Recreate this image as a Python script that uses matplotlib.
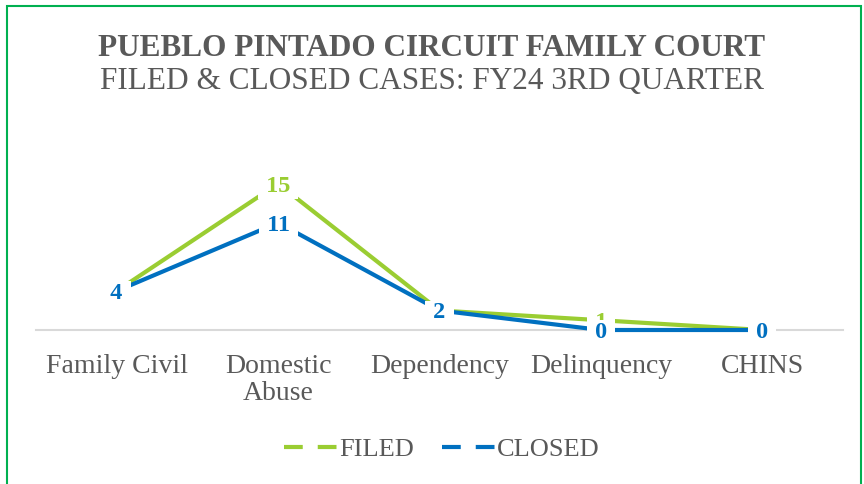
import matplotlib
matplotlib.use("Agg")
from matplotlib import pyplot as plt
from matplotlib.patches import Rectangle

categories = ["Family Civil", "Domestic\nAbuse", "Dependency", "Delinquency", "CHINS"]
filed = [4, 15, 2, 1, 0]
closed = [4, 11, 2, 0, 0]

title_1 = "PUEBLO PINTADO CIRCUIT FAMILY COURT"
title_2 = "FILED & CLOSED CASES: FY24 3RD QUARTER"

GREEN = "#9ACD32"
BLUE = "#0070C0"
GRAY = "#595959"

plt.rcParams['font.family'] = ['Liberation Serif', 'DejaVu Serif']

fig = plt.figure(figsize=(8.64, 4.84), dpi=100)
W, H = 864, 484

# plot area: x from 36 to 843 px, y=0 at 330 px, y=16 at 174 px
ax = fig.add_axes([36 / W, (H - 330) / H, (843 - 36) / W, 156 / H])
ax.set_xlim(-0.5, 4.5)
ax.set_ylim(0, 16)

x = list(range(len(categories)))
ax.plot(x, filed, color=GREEN, lw=3, label="FILED", clip_on=False, zorder=2,
        solid_capstyle='butt')
ax.plot(x, closed, color=BLUE, lw=3, label="CLOSED", clip_on=False, zorder=3,
        solid_capstyle='butt')

# white label boxes cut the lines, wider than tall
box = dict(boxstyle="square,pad=0.08", fc="white", ec="none")
for xi, v in zip(x, filed):
    ax.text(xi, v, " %d " % v, color=GREEN, fontsize=17.5, fontweight='bold',
            ha='center', va='center_baseline', bbox=box, zorder=4)
for xi, v in zip(x, closed):
    ax.text(xi, v, " %d " % v, color=BLUE, fontsize=17.5, fontweight='bold',
            ha='center', va='center_baseline', bbox=box, zorder=5)

for side in ["left", "right", "top"]:
    ax.spines[side].set_visible(False)
ax.spines["bottom"].set_color("#D9D9D9")
ax.spines["bottom"].set_linewidth(1.5)
ax.spines["bottom"].set_zorder(1)
ax.set_yticks([])
ax.set_xticks(x)
ax.set_xticklabels(categories, fontsize=20, color=GRAY, linespacing=1.15)
ax.tick_params(axis='x', length=0, pad=17)

fig.text(0.5, 1 - 48 / H, title_1, ha='center', va='center', fontsize=22.5,
         fontweight='bold', color=GRAY)
fig.text(0.5, 1 - 81 / H, title_2, ha='center', va='center', fontsize=22.5,
         color=GRAY)

handles = [plt.Line2D([], [], color=GREEN, lw=3, ls=(0, (4.5, 3.6))),
           plt.Line2D([], [], color=BLUE, lw=3, ls=(0, (4.5, 3.6)))]
fig.legend(handles, ["FILED", "CLOSED"], loc='center', ncol=2,
           bbox_to_anchor=(0.5 + 10 / W, 1 - 449 / H), frameon=False,
           fontsize=19, labelcolor=GRAY, handlelength=2.1, handletextpad=0.0,
           columnspacing=1.05)

fig.patches.append(Rectangle((7 / W, -0.05), (861 - 7) / W, 1.05 - 6 / H,
                             transform=fig.transFigure, fill=False,
                             ec="#00B050", lw=1.5))

fig.savefig("out.png", dpi=100)
